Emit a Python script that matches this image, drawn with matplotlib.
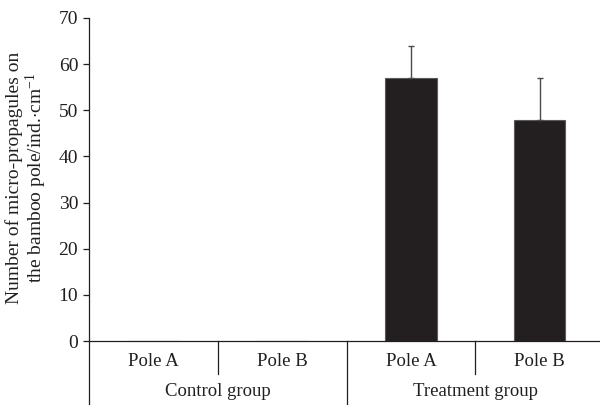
import matplotlib
matplotlib.use("Agg")
import matplotlib.pyplot as plt

plt.rcParams['font.family'] = ['Liberation Serif', 'DejaVu Serif']
plt.rcParams['mathtext.fontset'] = 'custom'
plt.rcParams['mathtext.rm'] = 'Liberation Serif'
plt.rcParams['mathtext.it'] = 'Liberation Serif:italic'
plt.rcParams['text.color'] = '#231f20'
plt.rcParams['ytick.color'] = '#231f20'

poles = ["Pole A", "Pole B", "Pole A", "Pole B"]
groups = ["Control group", "Treatment group"]
values = [0, 0, 57, 48]
errors = [0, 0, 7, 9]
yticks = [0, 10, 20, 30, 40, 50, 60, 70]

fig = plt.figure(figsize=(6.0, 4.05), dpi=100)
ax = fig.add_axes([89/600, 64/405, 515/600, 323/405])

x = list(range(len(values)))
ax.bar(x, values, width=0.4, color='#231f20', edgecolor='#5a5a5a', linewidth=0.8, zorder=2)
for xi, v, e in zip(x, values, errors):
    if v > 0:
        ax.errorbar(xi, v, yerr=[[0], [e]], fmt='none', ecolor='#4a4a4a',
                    elinewidth=1.0, capsize=2.3, capthick=1.0, zorder=3)

ax.set_xlim(-0.5, 3.5)
ax.set_ylim(0, 70)
ax.set_yticks(yticks)
ax.set_yticklabels([str(t) for t in yticks], fontsize=14)
ax.set_xticks([])
for s in ['top', 'right']:
    ax.spines[s].set_visible(False)
ax.spines['left'].set_linewidth(0.9)
ax.spines['bottom'].set_linewidth(0.9)
ax.spines['left'].set_color('#231f20')
ax.spines['bottom'].set_color('#231f20')
ax.tick_params(axis='y', direction='out', length=4.3, width=0.9, pad=3.5)

ppu = 323 / 70.0  # pixels per unit
def dy(px):
    return -px / ppu

lc = '#231f20'
for b in [0.5, 2.5]:
    ax.plot([b, b], [0, dy(33)], color=lc, lw=0.9, clip_on=False)
ax.plot([1.5, 1.5], [0, dy(66)], color=lc, lw=0.9, clip_on=False)
ax.plot([-0.5, -0.5], [0, dy(66)], color=lc, lw=0.9, clip_on=False)

for xi, lab in zip(x, poles):
    ax.text(xi, dy(21), lab, ha='center', va='center', fontsize=13.5)
for gi, g in enumerate(groups):
    ax.text(0.5 + 2 * gi, dy(50), g, ha='center', va='center', fontsize=13.5)

fig.text(27/600, (405 - 178)/405,
         "Number of micro-propagules on\nthe bamboo pole/ind.$\\cdot$cm$^{-1}$",
         rotation=90, ha='center', va='center', fontsize=14, linespacing=1.0)

fig.savefig("out.png", dpi=100)
